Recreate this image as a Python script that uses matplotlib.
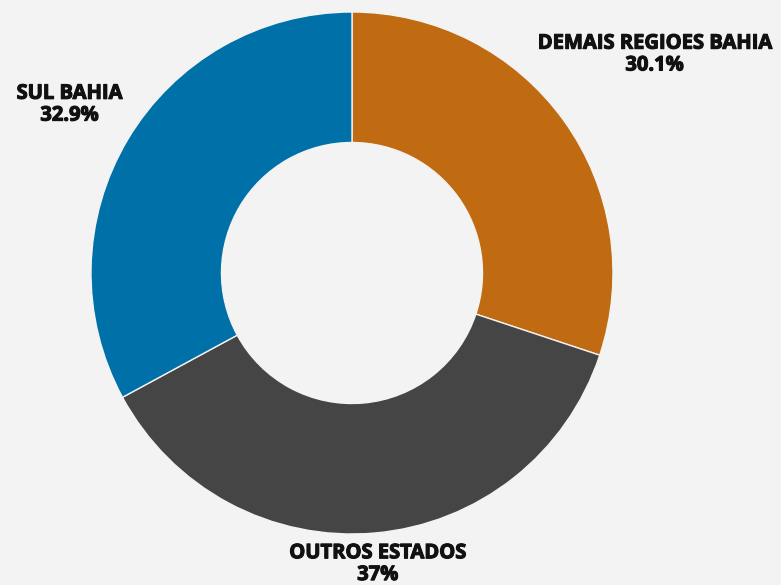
import numpy as np
import matplotlib
matplotlib.use('Agg')
import matplotlib.pyplot as plt
import matplotlib.patheffects as pe

labels = ['DEMAIS REGIOES BAHIA', 'OUTROS ESTADOS', 'SUL BAHIA']
values = [30.1, 37.0, 32.9]
pct_text = ['30.1%', '37%', '32.9%']
colors = ['#c06a11', '#454545', '#0070a8']
label_dist = [1.43, 1.12, 1.26]

W, H = 781, 585
cx, cy, R = 352, 273, 261

fig = plt.figure(figsize=(W / 100, H / 100), dpi=100)
fig.patch.set_facecolor('#f3f3f3')
ax = fig.add_axes([0, 0, 1, 1])
ax.set_facecolor('#f3f3f3')

wedges, _ = ax.pie(values, colors=colors, startangle=90, counterclock=False,
                   radius=1, wedgeprops=dict(width=0.5, edgecolor='#f3f3f3',
                                             linewidth=1))

total = sum(values)
start = 90.0
for lab, v, p, d in zip(labels, values, pct_text, label_dist):
    mid = np.deg2rad(start - v / total * 360 / 2)
    start -= v / total * 360
    ax.text(d * np.cos(mid), d * np.sin(mid), f'{lab}\n{p}',
            ha='center', va='center', fontsize=14.5, fontweight='bold',
            family=['Open Sans', 'DejaVu Sans'], color='#111111',
            linespacing=1.12,
            path_effects=[pe.withStroke(linewidth=0.8, foreground='#111111')])

ax.set_xlim(-cx / R, (W - cx) / R)
ax.set_ylim(-(H - cy) / R, cy / R)
ax.set_aspect('auto')
ax.axis('off')

fig.savefig('out.png', dpi=100, facecolor=fig.get_facecolor())
